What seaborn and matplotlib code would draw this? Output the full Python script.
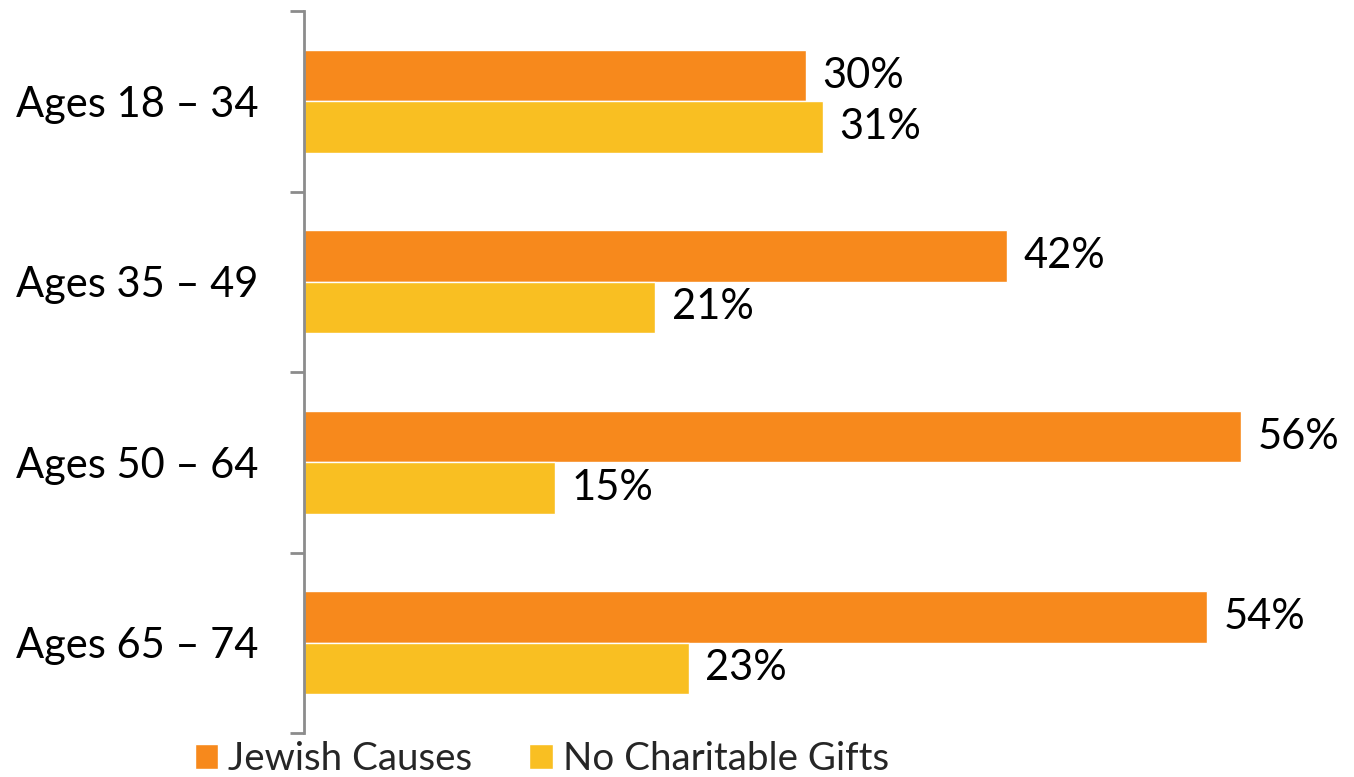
import matplotlib
matplotlib.use("Agg")
import matplotlib.pyplot as plt
import seaborn as sns
import pandas as pd
import numpy as np

# Age groups and share of each group (percent)
age_groups = ["Ages 18 – 34", "Ages 35 – 49", "Ages 50 – 64", "Ages 65 – 74"]
jewish_causes = [30, 42, 56, 54]
no_charitable_gifts = [31, 21, 15, 23]
series_names = ["Jewish Causes", "No Charitable Gifts"]
palette = ["#F7891C", "#F9BF22"]

df = pd.DataFrame({
    "group": age_groups * 2,
    "series": [series_names[0]] * 4 + [series_names[1]] * 4,
    "value": jewish_causes + no_charitable_gifts,
})

sns.set_style("white")
plt.rcParams["font.family"] = ["Lato", "DejaVu Sans"]
FS = 30
LEG_FS = 27.7

fig = plt.figure(figsize=(13.54, 7.77), dpi=100)
ax = fig.add_axes([304 / 1354, 44 / 777, 1 - 304 / 1354, 722 / 777])

sns.barplot(data=df, y="group", x="value", hue="series", order=age_groups,
            hue_order=series_names, palette=palette, width=0.57, orient="h",
            saturation=1, ax=ax, legend=True)

ax.set_xlim(0, (1354 - 304) / 16.73)
ax.set_ylim(3.5, -0.5)
ax.set_xlabel("")
ax.set_ylabel("")
ax.set_xticks([])

for s in ["top", "right", "bottom"]:
    ax.spines[s].set_visible(False)
ax.spines["left"].set_color("#8C8C8C")
ax.spines["left"].set_linewidth(2)

# category labels on major ticks, boundary tick marks on minor ticks
ax.set_yticks(range(len(age_groups)))
ax.set_yticklabels(age_groups, fontsize=FS, color="black")
ax.tick_params(axis="y", which="major", length=0, pad=33)
ax.set_yticks(np.arange(-0.5, len(age_groups) + 0.5, 1), minor=True)
ax.tick_params(axis="y", which="minor", length=10, width=2, color="#8C8C8C", left=True)

for cont in ax.containers:
    ax.bar_label(cont, labels=[f"{v:.0f}%" for v in cont.datavalues],
                 padding=12, fontsize=FS, color="black")

handles, labels = ax.get_legend_handles_labels()
ax.get_legend().remove()
fig.legend(handles, labels, loc="center", bbox_to_anchor=(542 / 1354, 1 - 759 / 777),
           ncol=2, frameon=False, fontsize=LEG_FS, handlelength=0.62, handleheight=0.62,
           handletextpad=0.26, columnspacing=1.48, borderpad=0)

fig.savefig("out.png", dpi=100)
